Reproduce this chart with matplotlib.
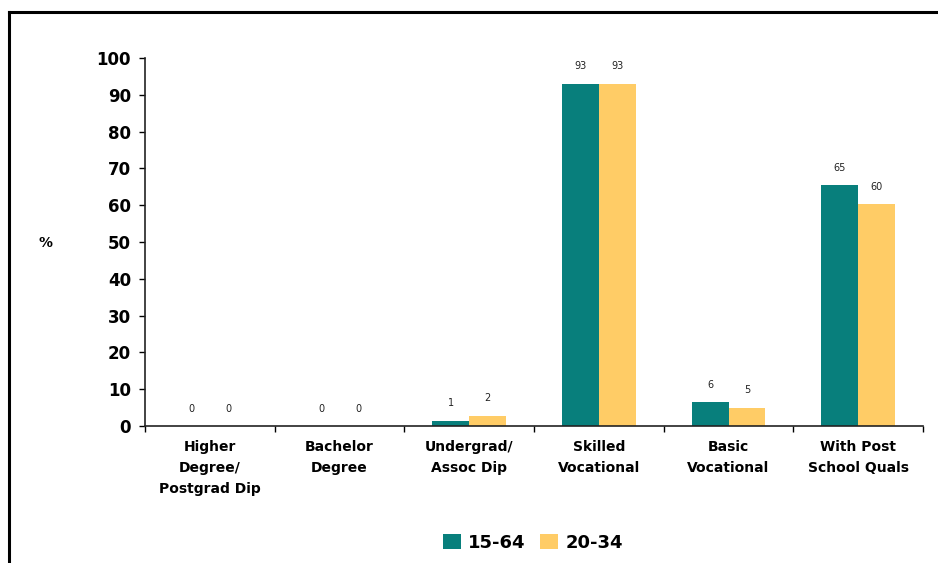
import matplotlib
matplotlib.use("Agg")
import matplotlib.pyplot as plt
from matplotlib.lines import Line2D
import numpy as np

categories = ["Higher\nDegree/\nPostgrad Dip", "Bachelor\nDegree", "Undergrad/\nAssoc Dip",
              "Skilled\nVocational", "Basic\nVocational", "With Post\nSchool Quals"]
series_names = ["15-64", "20-34"]
vals_1564 = [0, 0, 1.4, 93, 6.5, 65.4]
vals_2034 = [0, 0, 2.8, 93, 5.0, 60.3]
yticks = [0, 10, 20, 30, 40, 50, 60, 70, 80, 90, 100]

teal = "#087F7C"
yellow = "#FFCC66"

fig = plt.figure(figsize=(9.38, 5.63), dpi=100)
ax = fig.add_axes([145/938, 1-426/563, (923-145)/938, (426-58)/563])

x = np.arange(len(categories))
w = 0.285
b1 = ax.bar(x - w/2, vals_1564, w, color=teal, label=series_names[0])
b2 = ax.bar(x + w/2, vals_2034, w, color=yellow, label=series_names[1])

for bars, vals in ((b1, vals_1564), (b2, vals_2034)):
    for rect, v in zip(bars, vals):
        ax.annotate(str(int(v)), (rect.get_x() + rect.get_width()/2, rect.get_height()),
                    xytext=(0, 9), textcoords="offset points", ha="center", va="bottom",
                    fontsize=7, color="#222222")

ax.set_xlim(-0.5, len(categories) - 0.5)
ax.set_ylim(0, 100)
ax.set_yticks(yticks)
ax.set_yticklabels([str(t) for t in yticks], fontsize=12, fontweight="bold")
ax.tick_params(axis="y", direction="out", length=4, width=1, pad=6)

ax.set_xticks(x)
ax.set_xticklabels(categories, fontsize=10, fontweight="bold", linespacing=1.65)
ax.tick_params(axis="x", which="major", length=0, pad=10)
ax.set_xticks(np.arange(-0.5, len(categories)), minor=True)
ax.tick_params(axis="x", which="minor", direction="out", length=4, width=1)

for s in ("top", "right"):
    ax.spines[s].set_visible(False)
for s in ("left", "bottom"):
    ax.spines[s].set_linewidth(1.2)
    ax.spines[s].set_color("#222222")

fig.text(45/938, 1-243/563, "%", fontsize=10, fontweight="bold", ha="center", va="center")

fig.legend(loc="center", bbox_to_anchor=(533/938, 1-543/563), ncol=2, frameon=False,
           prop={"size": 13, "weight": "bold"}, handlelength=1.0, handleheight=0.9,
           columnspacing=0.8, handletextpad=0.4)

# outer frame
fig.add_artist(Line2D([9/938, 9/938], [0, 1-12/563], transform=fig.transFigure, color="black", lw=2.2))
fig.add_artist(Line2D([9/938, 1], [1-12/563, 1-12/563], transform=fig.transFigure, color="black", lw=2.2))

fig.savefig("out.png", dpi=100)
